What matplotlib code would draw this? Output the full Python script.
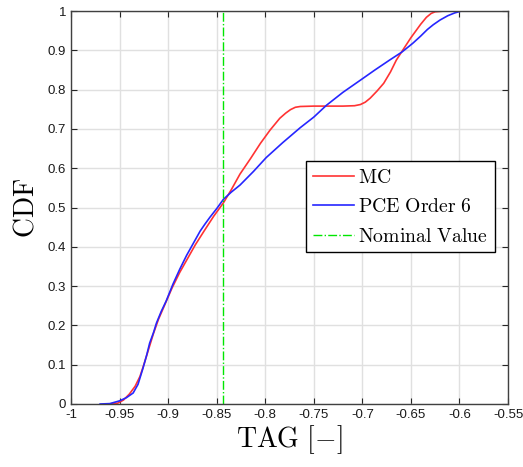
import numpy as np
import matplotlib
matplotlib.use("Agg")
import matplotlib.pyplot as plt

plt.rcParams['mathtext.fontset'] = 'cm'
plt.rcParams['font.family'] = ['Liberation Sans', 'DejaVu Sans']

# MC curve (red)
mc_x = [-0.962, -0.952, -0.946, -0.940, -0.934, -0.929, -0.925, -0.920, -0.915, -0.910, -0.903,
        -0.896, -0.888, -0.880, -0.872, -0.863, -0.853, -0.843, -0.835, -0.826, -0.815,
        -0.805, -0.795, -0.785, -0.779, -0.774, -0.769, -0.764, -0.750, -0.735, -0.720,
        -0.708, -0.702, -0.697, -0.692, -0.685, -0.678, -0.671, -0.665, -0.659, -0.650,
        -0.640, -0.634, -0.629, -0.625, -0.615, -0.605, -0.596]
mc_y = [0.000, 0.002, 0.010, 0.025, 0.045, 0.070, 0.100, 0.140, 0.180, 0.215, 0.255,
        0.295, 0.335, 0.370, 0.405, 0.440, 0.478, 0.512, 0.545, 0.585, 0.625,
        0.663, 0.697, 0.727, 0.740, 0.749, 0.755, 0.757, 0.758, 0.758, 0.758,
        0.759, 0.762, 0.768, 0.778, 0.796, 0.816, 0.845, 0.875, 0.898, 0.932,
        0.966, 0.984, 0.994, 0.998, 1.000, 1.000, 1.000]

# PCE Order 6 curve (blue)
pce_x = [-0.970, -0.960, -0.950, -0.943, -0.936, -0.931, -0.926, -0.922, -0.919, -0.915, -0.912,
         -0.907, -0.902, -0.895, -0.888, -0.881, -0.874, -0.867, -0.862, -0.857, -0.850,
         -0.843, -0.835, -0.826, -0.812, -0.799, -0.782, -0.764, -0.750, -0.737, -0.720,
         -0.702, -0.687, -0.672, -0.659, -0.648, -0.640, -0.633, -0.627, -0.620, -0.612,
         -0.605, -0.598]
pce_y = [0.000, 0.001, 0.008, 0.016, 0.028, 0.050, 0.090, 0.125, 0.155, 0.182, 0.206,
         0.236, 0.262, 0.305, 0.343, 0.378, 0.409, 0.440, 0.458, 0.475, 0.497,
         0.521, 0.539, 0.557, 0.592, 0.627, 0.665, 0.703, 0.730, 0.760, 0.793,
         0.824, 0.850, 0.875, 0.896, 0.918, 0.936, 0.953, 0.965, 0.977, 0.988,
         0.995, 1.000]

nominal_value = -0.843

x_ticks = [-1, -0.95, -0.9, -0.85, -0.8, -0.75, -0.7, -0.65, -0.6, -0.55]
x_tick_labels = ['-1', '-0.95', '-0.9', '-0.85', '-0.8', '-0.75', '-0.7', '-0.65', '-0.6', '-0.55']
y_ticks = [0, 0.1, 0.2, 0.3, 0.4, 0.5, 0.6, 0.7, 0.8, 0.9, 1]
y_tick_labels = ['0', '0.1', '0.2', '0.3', '0.4', '0.5', '0.6', '0.7', '0.8', '0.9', '1']

fig = plt.figure(figsize=(5.23, 4.67), dpi=100)
ax = fig.add_axes([71/523, 63/467, 437/523, 393/467])

ax.plot(mc_x, mc_y, color=(1, 0.2, 0.2), lw=1.2, label=r'$\mathrm{MC}$')
ax.plot(pce_x, pce_y, color=(0.15, 0.15, 1), lw=1.2, label=r'$\mathrm{PCE\ Order\ 6}$')
ax.axvline(nominal_value, color=(0, 0.9, 0), lw=1.0, ls='-.', label=r'$\mathrm{Nominal\ Value}$')

ax.set_xlim(-1, -0.55)
ax.set_ylim(0, 1)
ax.set_xticks(x_ticks)
ax.set_xticklabels(x_tick_labels)
ax.set_yticks(y_ticks)
ax.set_yticklabels(y_tick_labels)
ax.tick_params(direction='in', top=True, right=True, labelsize=9.5, length=4, width=0.8,
               colors='#262626', labelcolor='#1a1a1a')
ax.grid(True, color='#e0e0e0', lw=1.0)
ax.set_axisbelow(True)
for s in ax.spines.values():
    s.set_color('#404040')
    s.set_linewidth(1.0)

ax.set_xlabel(r'$\mathrm{TAG}\ [-]$', fontsize=20, labelpad=2)
ax.set_ylabel(r'$\mathrm{CDF}$', fontsize=20, labelpad=6)

leg = ax.legend(loc='upper left', bbox_to_anchor=(0.538, 0.618), fontsize=14.2,
                fancybox=False, edgecolor='black', framealpha=1, borderpad=0.35,
                handlelength=2.1, handletextpad=0.2, labelspacing=0.52, borderaxespad=0)
leg.get_frame().set_linewidth(1.0)

fig.savefig('out.png', dpi=100)
